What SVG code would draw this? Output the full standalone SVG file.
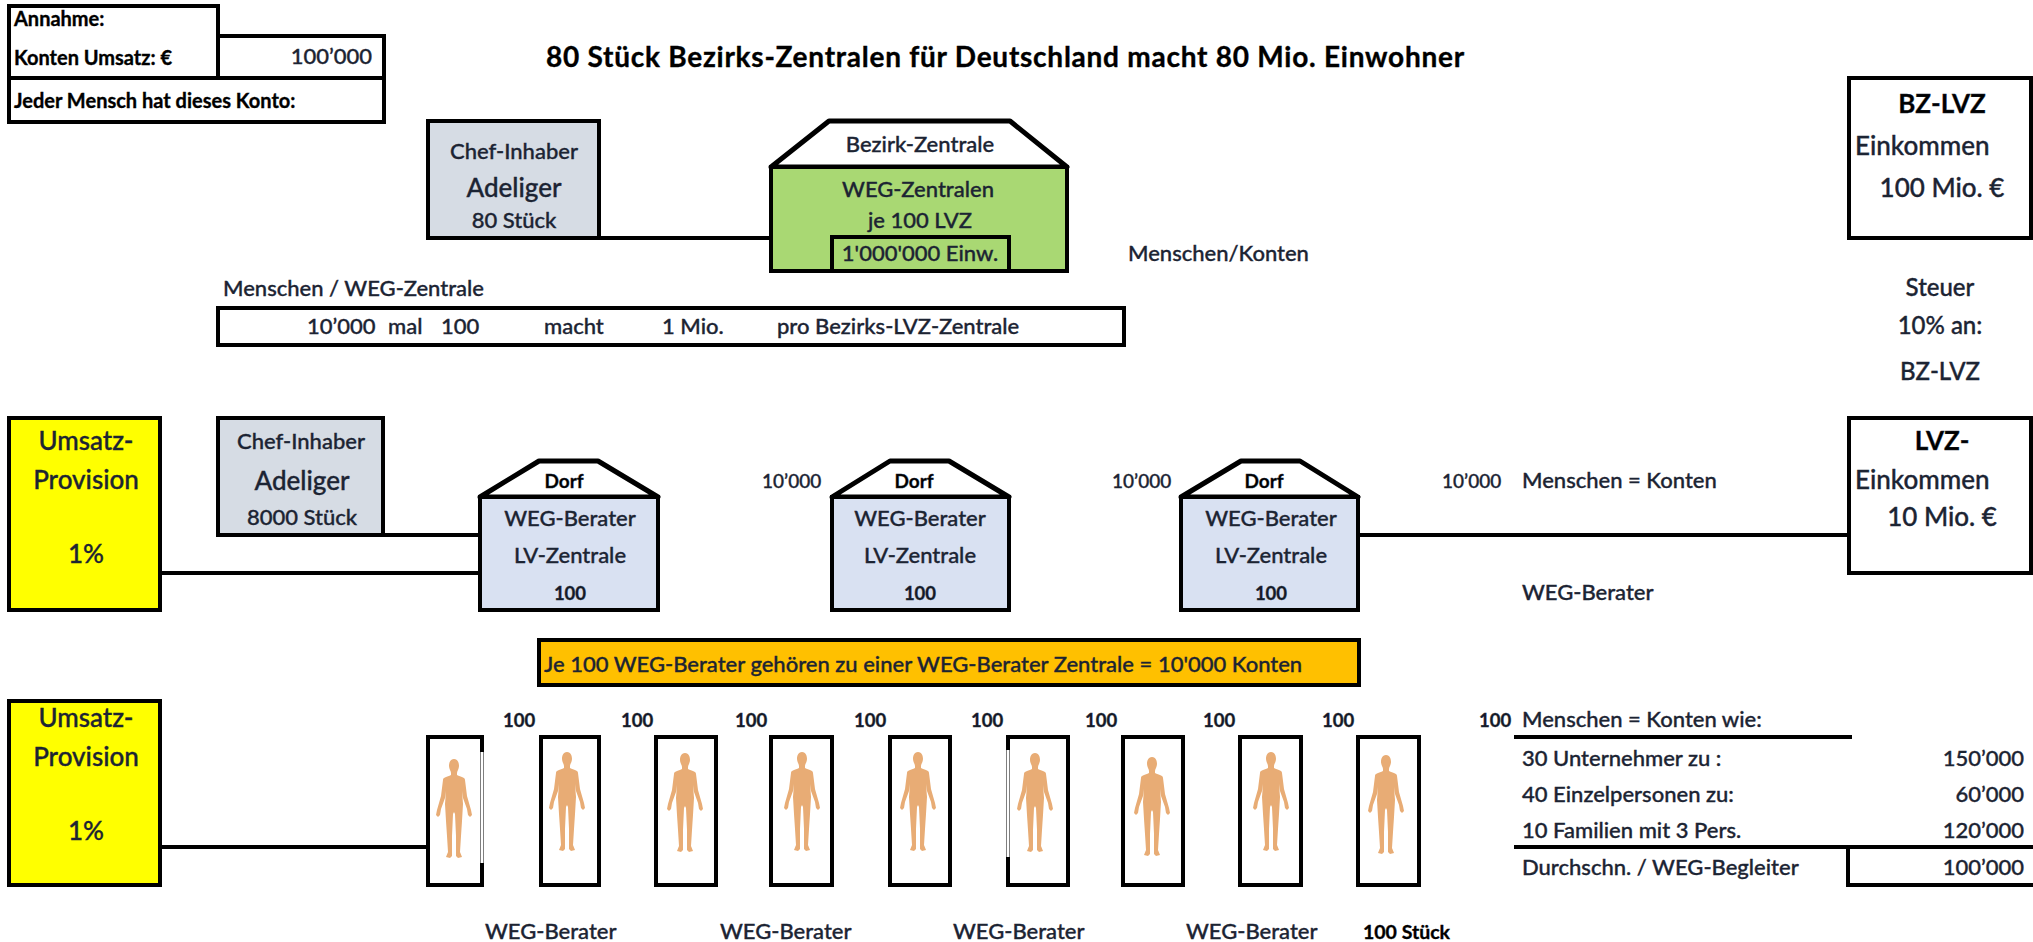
<svg xmlns="http://www.w3.org/2000/svg" width="2033" height="942" viewBox="0 0 2033 942">
<style>
text{font-family:Lato,"Liberation Sans",sans-serif;font-size:22px;fill:#1c2433;font-weight:500;stroke:#1c2433;stroke-width:.35}
.c{text-anchor:middle}.r{text-anchor:end}
.s{font-size:19px}.n{font-size:18.5px;font-weight:700;fill:#141a28}.h{font-size:20px;font-weight:700;fill:#000;stroke:#000}.l{font-size:26px}.m{font-size:24px}.b{font-weight:700;fill:#000}.t{font-size:28px;font-weight:700;fill:#000;stroke:#000;letter-spacing:.75px}
.k{fill:none;stroke:#000;stroke-width:4;stroke-linecap:square}
.o{stroke:#000;stroke-width:4}
.f{fill:#fff;stroke:#000;stroke-width:5;stroke-linejoin:round}
.w{stroke:#fff;stroke-width:3}
</style>
<defs>
<filter id="bl" x="-20%" y="-20%" width="140%" height="140%"><feGaussianBlur stdDeviation=".5"/></filter>
<path id="person" fill="#E8AC74" filter="url(#bl)" d="M0 -47C4 -47 5 -43 5 -40C5 -37 3 -35 3 -33L3 -31C7 -29 11 -29 11 -26L13 -10L17 4L18 9L16 11L14 9L13 3L9 -8L8 -15L9 -2L8 15L7 30L6 46L8 51L4 52L2 50L2 30L1 8L0 6L-1 8L-2 30L-2 50L-4 52L-8 51L-6 46L-7 30L-8 15L-9 -2L-8 -15L-9 -8L-13 3L-14 9L-16 11L-18 9L-17 4L-13 -10L-11 -26C-11 -29 -7 -29 -3 -31L-3 -33C-3 -35 -5 -37 -5 -40C-5 -43 -4 -47 0 -47Z"/>
</defs>
<rect width="2033" height="942" fill="#fff"/>
<g id="connectors">
<path class="k" d="M599 238H771M383 535H480M160 573H480M1358 535H1850M160 847H428"/>
</g>
<g id="assumption">
<path class="k" d="M9 6H218V78M218 36H384V122H9V6M9 78H384"/>
<text class="h" x="14" y="26">Annahme:</text>
<text class="h" x="14" y="65">Konten Umsatz: €</text>
<text x="372" y="64" class="r">100’000</text>
<text class="h" x="14" y="108">Jeder Mensch hat dieses Konto:</text>
</g>
<text id="title" class="t" x="546" y="67">80 Stück Bezirks-Zentralen für Deutschland macht 80 Mio. Einwohner</text>
<g id="chef1">
<rect x="428" y="121" width="171" height="117" fill="#D6DCE4" class="o"/>
<text class="c" x="514" y="159">Chef-Inhaber</text>
<text class="c l" x="514" y="197">Adeliger</text>
<text class="c" x="514" y="228">80 Stück</text>
</g>
<g id="bezirk">
<path class="f" d="M771 167L829 121H1010L1067 167Z"/>
<rect x="771" y="167" width="296" height="104" fill="#A9D873" class="o"/>
<rect x="832" y="237" width="177" height="34" fill="#A9D873" class="o"/>
<text class="c" x="920" y="152">Bezirk-Zentrale</text>
<text class="c" x="918" y="197">WEG-Zentralen</text>
<text class="c" x="920" y="228">je 100 LVZ</text>
<text class="c" x="920" y="261">1'000'000 Einw.</text>
</g>
<text x="1128" y="261">Menschen/Konten</text>
<text x="223" y="296">Menschen / WEG-Zentrale</text>
<g id="calc">
<rect x="218" y="308" width="906" height="37" fill="#fff" class="o"/>
<text x="307" y="334">10’000</text><text x="388" y="334">mal</text><text x="441" y="334">100</text><text x="544" y="334">macht</text><text x="662" y="334">1 Mio.</text><text x="777" y="334">pro Bezirks-LVZ-Zentrale</text>
</g>
<g id="bz-lvz">
<rect x="1849" y="78" width="182" height="160" fill="#fff" class="o"/>
<text class="c l b" x="1942" y="113">BZ-LVZ</text>
<text class="l" x="1855" y="155">Einkommen</text>
<text class="c l" x="1942" y="197">100 Mio. €</text>
</g>
<text class="c m" x="1940" y="296">Steuer</text>
<text class="c m" x="1940" y="334">10% an:</text>
<text class="c m" x="1940" y="380">BZ-LVZ</text>
<g id="prov1">
<rect x="9" y="418" width="151" height="192" fill="#FFFF00" class="o"/>
<text class="c l" x="86" y="450">Umsatz-</text><text class="c l" x="86" y="489">Provision</text><text class="c l" x="86" y="563">1%</text>
</g>
<g id="chef2">
<rect x="218" y="418" width="165" height="117" fill="#D6DCE4" class="o"/>
<text class="c" x="301" y="449">Chef-Inhaber</text>
<text class="c l" x="302" y="490">Adeliger</text>
<text class="c" x="302" y="525">8000 Stück</text>
</g>
<g id="dorf1">
<path class="f" d="M480 497L539 461H598L658 497Z"/>
<rect x="480" y="497" width="178" height="113" fill="#D9E1F2" class="o"/>
<text class="c s b" x="564" y="488">Dorf</text>
<text class="c" x="570" y="526">WEG-Berater</text><text class="c" x="570" y="563">LV-Zentrale</text><text class="c n" x="570" y="600">100</text>
</g>
<g id="dorf2">
<path class="f" d="M832 497L890 461H949L1009 497Z"/>
<rect x="832" y="497" width="177" height="113" fill="#D9E1F2" class="o"/>
<text class="c s b" x="914" y="488">Dorf</text>
<text class="c" x="920" y="526">WEG-Berater</text><text class="c" x="920" y="563">LV-Zentrale</text><text class="c n" x="920" y="600">100</text>
</g>
<g id="dorf3">
<path class="f" d="M1181 497L1241 461H1300L1358 497Z"/>
<rect x="1181" y="497" width="177" height="113" fill="#D9E1F2" class="o"/>
<text class="c s b" x="1264" y="488">Dorf</text>
<text class="c" x="1271" y="526">WEG-Berater</text><text class="c" x="1271" y="563">LV-Zentrale</text><text class="c n" x="1271" y="600">100</text>
</g>
<g class="labels">
<text x="762" y="488" class="s">10’000</text><text x="1112" y="488" class="s">10’000</text><text x="1442" y="488" class="s">10’000</text>
<text x="1522" y="488">Menschen = Konten</text>
<text x="1522" y="600">WEG-Berater</text>
</g>
<g id="lvz">
<rect x="1849" y="418" width="182" height="155" fill="#fff" class="o"/>
<text class="c l b" x="1942" y="450">LVZ-</text>
<text class="l" x="1855" y="489">Einkommen</text>
<text class="c l" x="1942" y="526">10 Mio. €</text>
</g>
<g id="banner">
<rect x="539" y="640" width="820" height="45" fill="#FFC000" class="o"/>
<text x="544" y="672">Je 100 WEG-Berater gehören zu einer WEG-Berater Zentrale = 10'000 Konten</text>
</g>
<g id="prov2">
<rect x="9" y="701" width="151" height="184" fill="#FFFF00" class="o"/>
<text class="c l" x="86" y="727">Umsatz-</text><text class="c l" x="86" y="766">Provision</text><text class="c l" x="86" y="840">1%</text>
</g>
<g id="persons">
<rect x="428" y="737" width="54" height="148" fill="#fff" class="o"/><path class="w" d="M482 752V863"/><use href="#person" x="454" y="806"/>
<rect x="541" y="737" width="58" height="148" fill="#fff" class="o"/><use href="#person" x="567" y="799"/>
<rect x="656" y="737" width="60" height="148" fill="#fff" class="o"/><use href="#person" x="685" y="800"/>
<rect x="771" y="737" width="61" height="148" fill="#fff" class="o"/><use href="#person" x="802" y="799"/>
<rect x="890" y="737" width="60" height="148" fill="#fff" class="o"/><use href="#person" x="918" y="799"/>
<rect x="1008" y="737" width="60" height="148" fill="#fff" class="o"/><path class="w" d="M1008 750V857"/><use href="#person" x="1035" y="800"/>
<rect x="1123" y="737" width="60" height="148" fill="#fff" class="o"/><use href="#person" x="1152" y="804"/>
<rect x="1240" y="737" width="61" height="148" fill="#fff" class="o"/><use href="#person" x="1271" y="799"/>
<rect x="1358" y="737" width="61" height="148" fill="#fff" class="o"/><use href="#person" x="1386" y="802"/>
</g>
<g class="labels">
<text class="n" x="503" y="727">100</text><text class="n" x="621" y="727">100</text><text class="n" x="735" y="727">100</text><text class="n" x="854" y="727">100</text><text class="n" x="971" y="727">100</text><text class="n" x="1085" y="727">100</text><text class="n" x="1203" y="727">100</text><text class="n" x="1322" y="727">100</text><text class="n" x="1479" y="727">100</text>
<text x="485" y="939">WEG-Berater</text><text x="720" y="939">WEG-Berater</text><text x="953" y="939">WEG-Berater</text><text x="1186" y="939">WEG-Berater</text>
<text class="h" style="font-size:19.5px" x="1363" y="939">100 Stück</text>
</g>
<g id="table">
<path class="k" d="M1516 737H1850M1516 847H2033M1848 847V885H2033"/>
<text x="1522" y="727">Menschen = Konten wie:</text>
<text x="1522" y="766">30 Unternehmer zu :</text><text class="r" x="2024" y="766">150’000</text>
<text x="1522" y="802">40 Einzelpersonen zu:</text><text class="r" x="2024" y="802">60’000</text>
<text x="1522" y="838">10 Familien mit 3 Pers.</text><text class="r" x="2024" y="838">120’000</text>
<text x="1522" y="875">Durchschn. / WEG-Begleiter</text><text class="r" x="2024" y="875">100’000</text>
</g>
</svg>
